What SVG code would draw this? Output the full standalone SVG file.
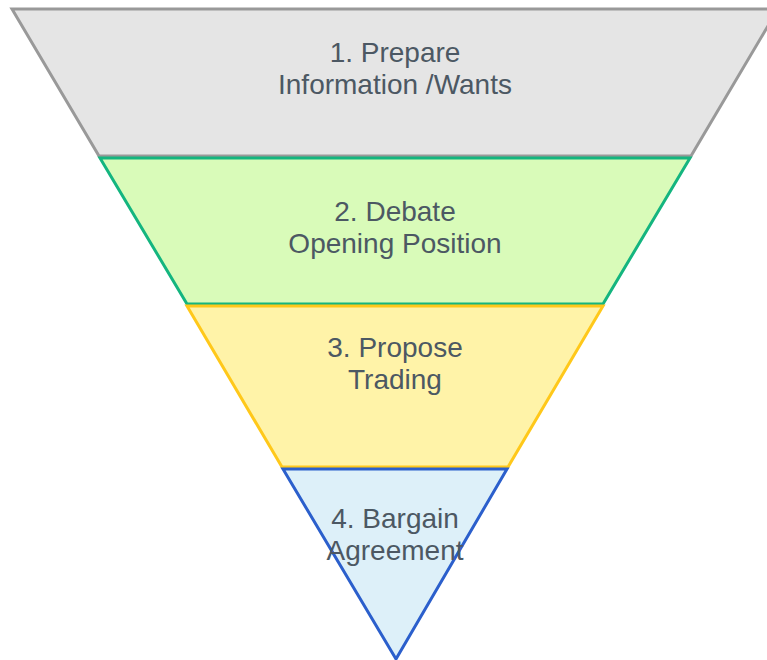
<svg xmlns="http://www.w3.org/2000/svg" width="767" height="660" viewBox="0 0 767 660">
<style>
.layer{stroke-width:3;stroke-linejoin:miter}
.lbl{font-family:"Liberation Sans",Arial,sans-serif;font-size:28px;fill:#4c5863;text-anchor:middle}
</style>
<rect width="767" height="660" fill="#ffffff"/>
<g id="layer1">
<polygon class="layer" points="12,9 778,9 691,156 99,156" fill="#e5e5e5" stroke="#999999"/>
<text class="lbl" x="395" y="62">1. Prepare</text>
<text class="lbl" x="395" y="94">Information /Wants</text>
</g>
<g id="layer2">
<polygon class="layer" points="100,158 690,158 603,304 187,304" fill="#d9fbb9" stroke="#14b57f"/>
<text class="lbl" x="395" y="221">2. Debate</text>
<text class="lbl" x="395" y="253">Opening Position</text>
</g>
<g id="layer3">
<polygon class="layer" points="187,306 603,306 508,467 282,467" fill="#fff3a8" stroke="#ffc81a"/>
<text class="lbl" x="395" y="357">3. Propose</text>
<text class="lbl" x="395" y="389">Trading</text>
</g>
<g id="layer4">
<polygon class="layer" points="283,469 507,469 396,659" fill="#ddf0f9" stroke="#2b5fcc"/>
<text class="lbl" x="395" y="528">4. Bargain</text>
<text class="lbl" x="395" y="560">Agreement</text>
</g>
<g id="connectors"></g>
</svg>
